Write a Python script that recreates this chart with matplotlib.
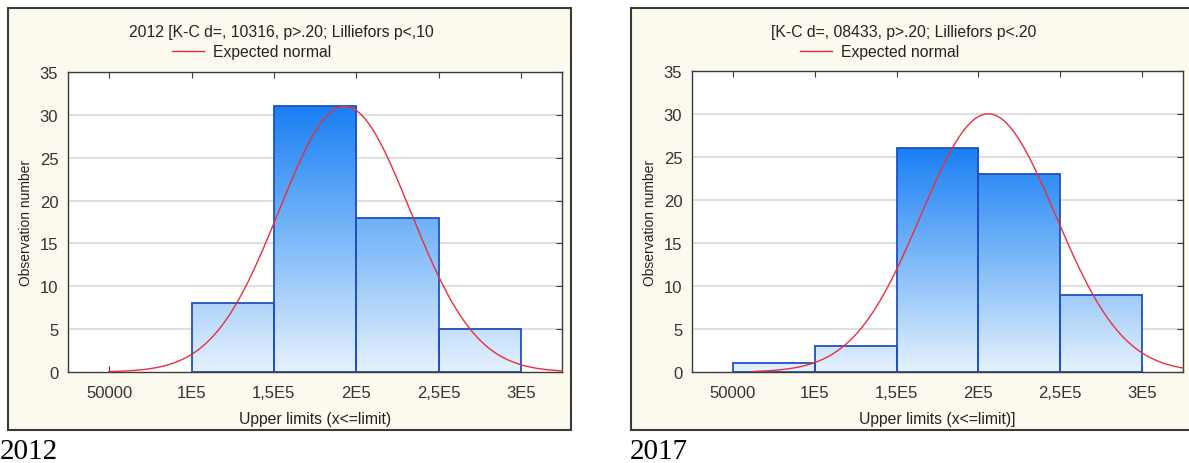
import numpy as np
import matplotlib
matplotlib.use("Agg")
import matplotlib.pyplot as plt
from matplotlib.patches import Rectangle
from matplotlib.colors import LinearSegmentedColormap

# ---- data ----
bin_edges = [50000, 100000, 150000, 200000, 250000, 300000]
tick_values = [50000, 100000, 150000, 200000, 250000, 300000]
tick_labels = ["50000", "1E5", "1,5E5", "2E5", "2,5E5", "3E5"]
counts_2012 = [0, 8, 31, 18, 5]
counts_2017 = [1, 3, 26, 23, 9]
# expected-normal parameters
mean_2012, sd_2012, n_2012 = 193000, 39900, 62
mean_2017, sd_2017, n_2017 = 206000, 41200, 62
curve_start_2012 = 50000
curve_start_2017 = 63000
title_2012 = "2012 [K-C d=, 10316, p>.20; Lilliefors p<,10"
title_2017 = "[K-C d=, 08433, p>.20; Lilliefors p<.20"
xlabel_2012 = "Upper limits (x<=limit)"
xlabel_2017 = "Upper limits (x<=limit)]"
ylabel = "Observation number"
panel_labels = ["2012", "2017"]

W, H = 1189, 464
fig = plt.figure(figsize=(W / 100, H / 100), dpi=100)
fig.patch.set_facecolor("white")
plt.rcParams["font.family"] = ["Liberation Sans", "DejaVu Sans"]

cmap = LinearSegmentedColormap.from_list("g", ["#E6F1FD", "#7DB9F8", "#1A7FF5"])

XMIN, XMAX = 25000, 325000


def px_rect(x0, y0, x1, y1):
    return [x0 / W, 1 - y1 / H, (x1 - x0) / W, (y1 - y0) / H]


def panel(frame, axrect, counts, mean, sd, n, cstart, title, xlabel, title_cx, leg_cx):
    fx0, fy0, fx1, fy1 = frame
    fig.add_artist(Rectangle((fx0 / W, 1 - fy1 / H), (fx1 - fx0) / W, (fy1 - fy0) / H,
                             transform=fig.transFigure, facecolor="#FCF9EE",
                             edgecolor="#3a3a3a", lw=1.5, zorder=-5))
    ax = fig.add_axes(px_rect(*axrect))
    ax.set_facecolor("white")
    ax.set_xlim(XMIN, XMAX)
    ax.set_ylim(0, 35)
    ax.set_yticks(range(0, 36, 5))
    ax.set_xticks(tick_values)
    ax.set_xticklabels(tick_labels)
    for y in range(5, 35, 5):
        ax.axhline(y, color="#DCDCDC", lw=1.3, zorder=0)
    maxc = max(counts)
    for i, c in enumerate(counts):
        if c <= 0:
            continue
        x0, x1 = bin_edges[i], bin_edges[i + 1]
        rect = Rectangle((x0, 0), x1 - x0, c, facecolor="none",
                         edgecolor="#2050C0", lw=1.3, zorder=3)
        ax.add_patch(rect)
        grad = np.linspace(0, c / maxc, 200).reshape(-1, 1)
        im = ax.imshow(grad, extent=(x0, x1, 0, c), origin="lower", cmap=cmap,
                       vmin=0, vmax=1, aspect="auto", zorder=2)
        im.set_clip_path(rect)
    xs = np.linspace(cstart, XMAX, 400)
    ys = n * 50000 / (sd * np.sqrt(2 * np.pi)) * np.exp(-0.5 * ((xs - mean) / sd) ** 2)
    line, = ax.plot(xs, ys, color="#E8303A", lw=1.0, zorder=4, label="Expected normal", clip_on=False)
    ax.set_xlim(XMIN, XMAX)
    ax.set_ylim(0, 35)
    for s in ax.spines.values():
        s.set_color("#3a3a3a")
        s.set_linewidth(1.0)
    ax.tick_params(direction="in", length=4, top=True, right=True, left=False,
                   bottom=True, colors="#3a3a3a")
    ax.tick_params(axis="y", labelsize=12, pad=7)
    ax.tick_params(axis="x", labelsize=12, pad=9)
    for t in ax.get_xticklabels() + ax.get_yticklabels():
        t.set_color("#333333")
    ax.set_xlabel(xlabel, fontsize=11.3, color="#222222", labelpad=8)
    ax.set_ylabel(ylabel, fontsize=10, color="#222222", labelpad=5)
    fig.text(title_cx / W, 1 - 32 / H, title, ha="center", va="center",
             fontsize=11.3, color="#222222")
    fig.legend(handles=[line], loc="center", bbox_to_anchor=(leg_cx / W, 1 - 53 / H),
               frameon=False, fontsize=11.3, handlelength=2.0, handletextpad=0.6,
               borderpad=0, labelcolor="#222222")
    return ax


panel((8, 9, 571, 431), (68, 73, 562, 373), counts_2012, mean_2012, sd_2012, n_2012,
      curve_start_2012, title_2012, xlabel_2012, 281, 252)
panel((631, 9, 1195, 431), (692, 72, 1183, 373), counts_2017, mean_2017, sd_2017, n_2017,
      curve_start_2017, title_2017, xlabel_2017, 904, 880)

fig.text(0 / W, 1 - 452 / H, panel_labels[0], ha="left", va="center",
         fontsize=21, family=["Liberation Serif", "DejaVu Serif"], color="black")
fig.text(630 / W, 1 - 452 / H, panel_labels[1], ha="left", va="center",
         fontsize=21, family=["Liberation Serif", "DejaVu Serif"], color="black")

fig.savefig("out.png", dpi=100)
